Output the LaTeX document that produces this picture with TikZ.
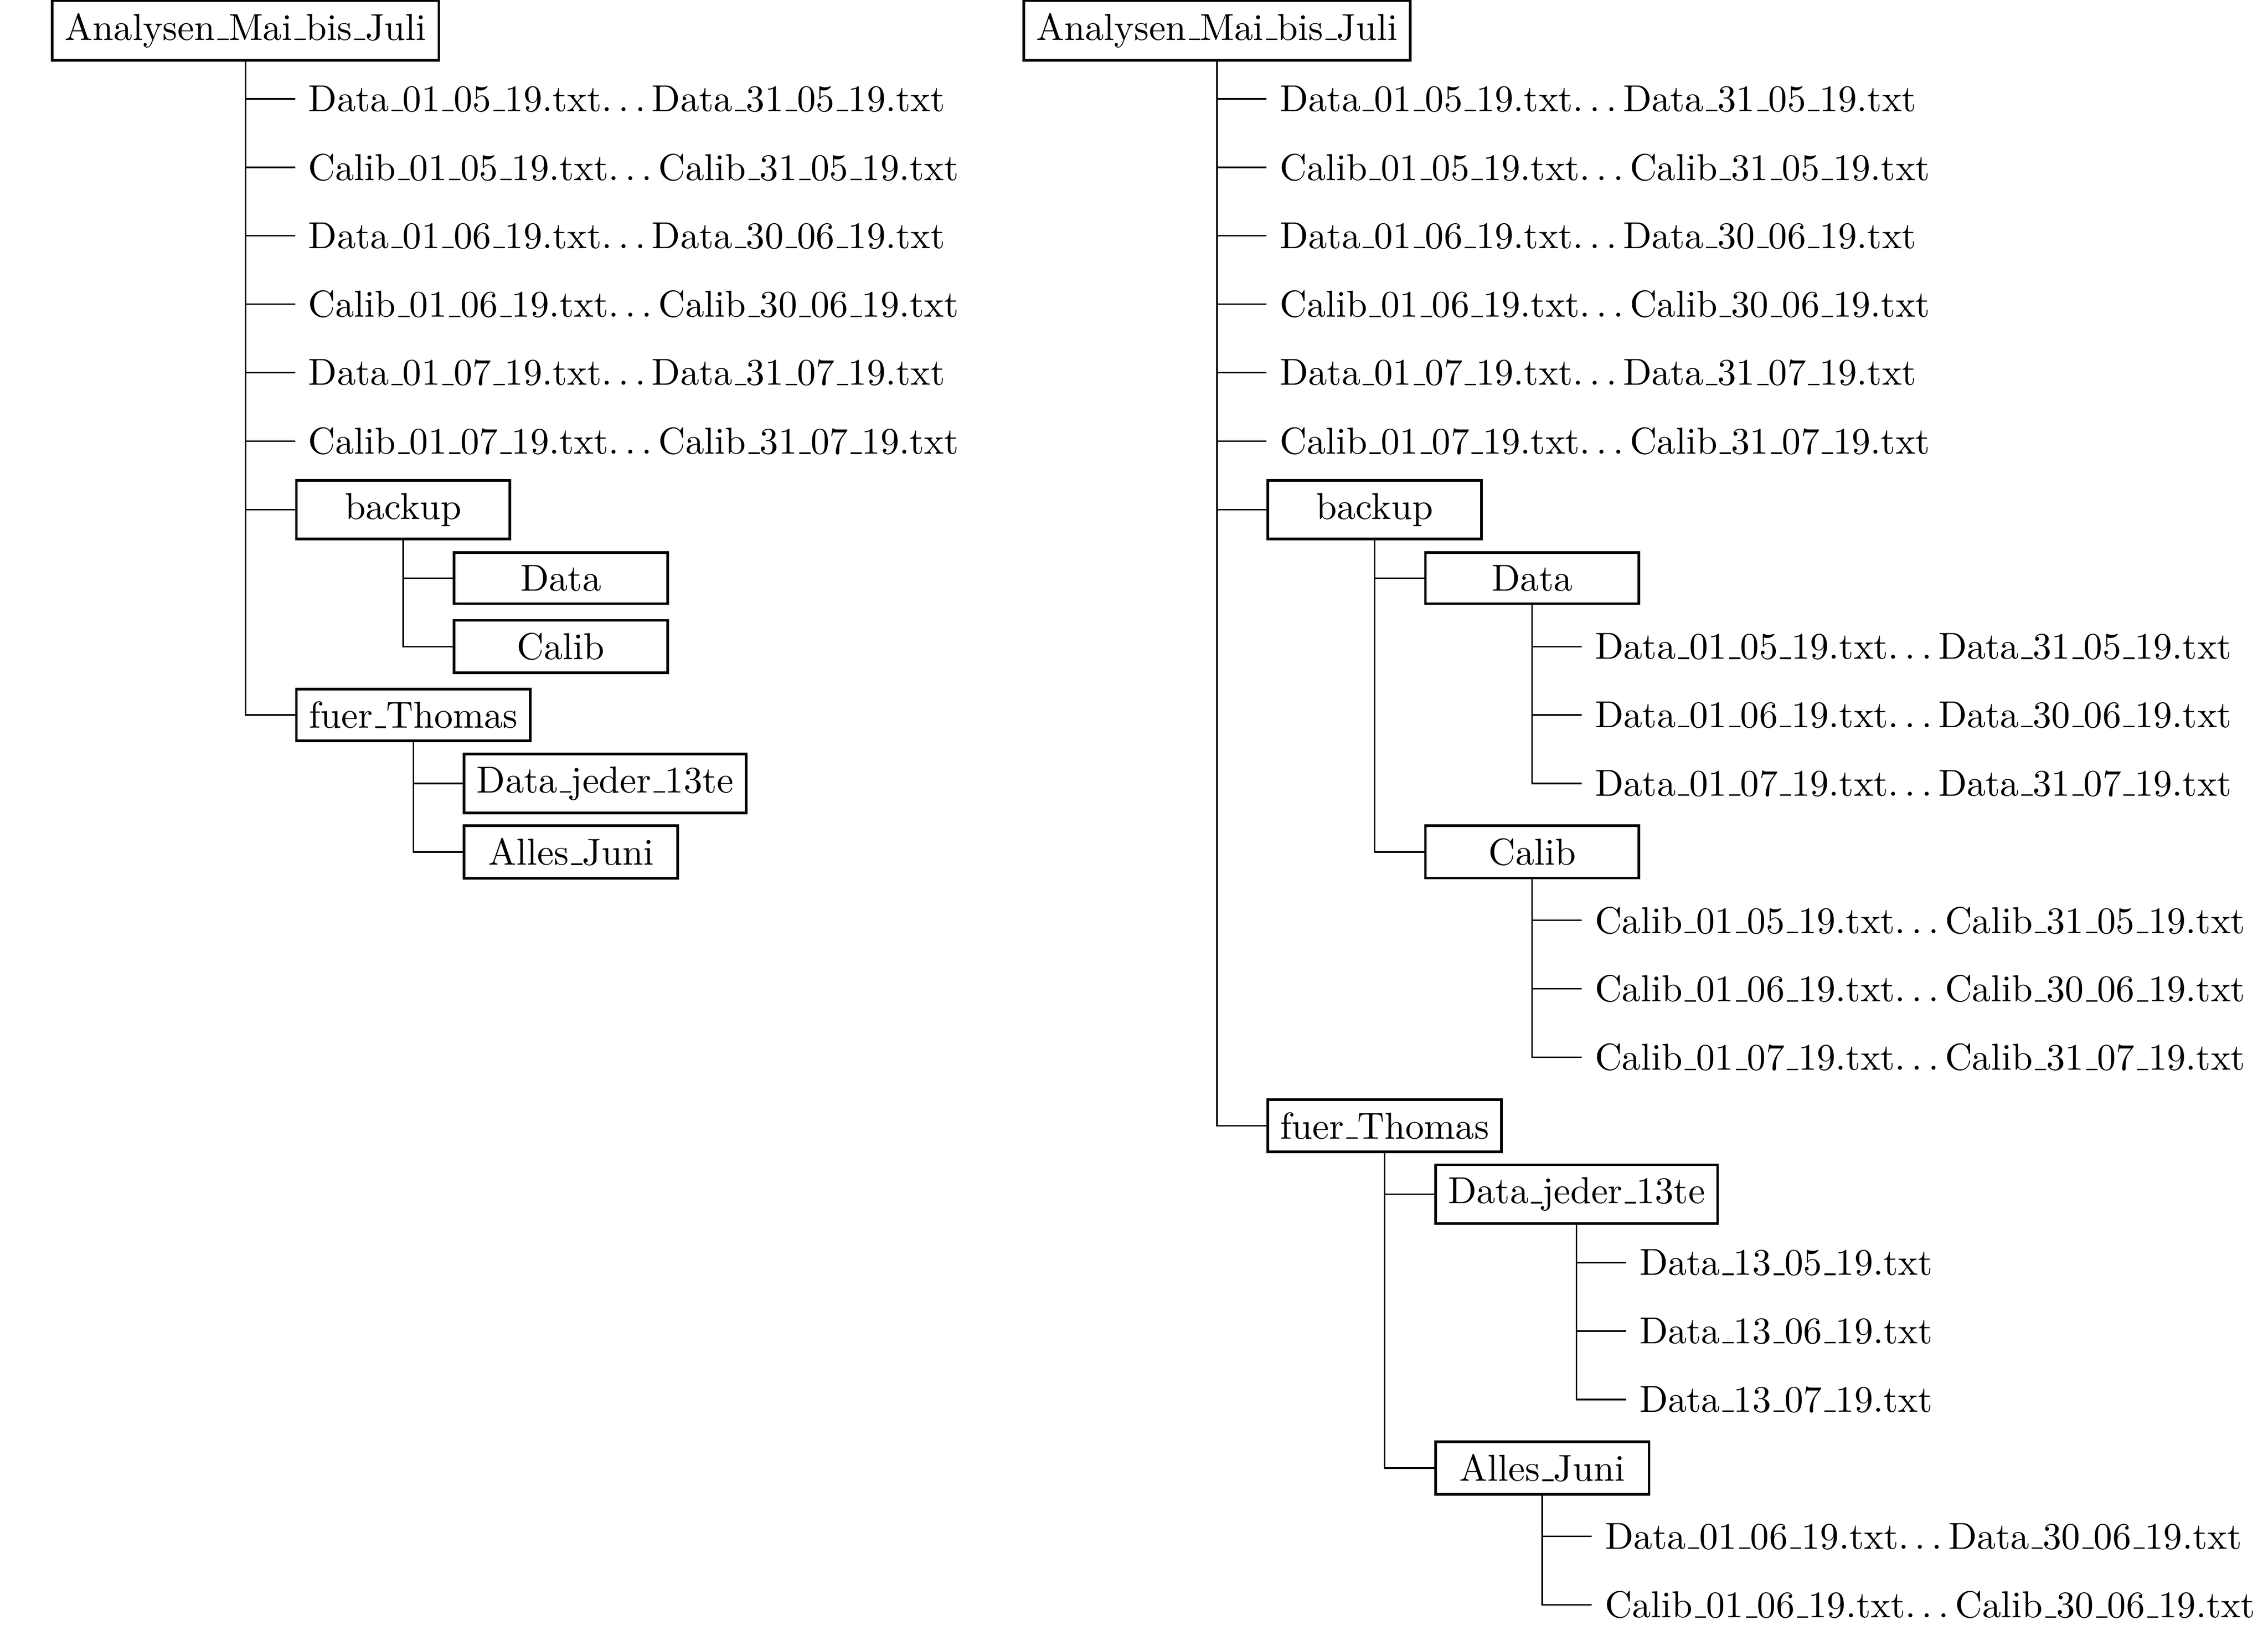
\documentclass[tikz,border=0pt]{standalone}
\usetikzlibrary{calc}
\newcommand\usc{\leavevmode\kern.06em\vbox{\hrule width.3em}}
\newcommand\dts{.\kern\fontdimen3\font.\kern\fontdimen3\font.\kern\fontdimen3\font}
\newcommand\rng[3]{#1\usc01\usc#2\usc19.txt\dts #1\usc#3\usc#2\usc19.txt}
\tikzset{
  rootbox/.style={draw, line width=0.7pt, minimum width=2cm},
  folder/.style={draw, line width=0.7pt, minimum width=2cm, anchor=west},
  file/.style={anchor=west},
  conn/.style={line width=0.4pt},
}
\newcommand\kid[5]{%
  \path (#3.south) ++(13.2pt,0) coordinate (tmp);
  \node[#1] (#2) at (tmp |- r#4) {#5};
  \draw[conn] (#3.south) |- (#2.west);
}
\begin{document}
\begin{tikzpicture}
\useasboundingbox (0,0) rectangle (604.4pt,-434.3pt);
\foreach \i in {0,...,23} {\coordinate (r\i) at (0pt,{-8.11pt-18.24pt*\i});}
% left tree
\node[rootbox] (L) at (65.45pt,-8.11pt) {Analysen\usc Mai\usc bis\usc Juli};
\kid{file}{La1}{L}{1}{\rng{Data}{05}{31}}
\kid{file}{La2}{L}{2}{\rng{Calib}{05}{31}}
\kid{file}{La3}{L}{3}{\rng{Data}{06}{30}}
\kid{file}{La4}{L}{4}{\rng{Calib}{06}{30}}
\kid{file}{La5}{L}{5}{\rng{Data}{07}{31}}
\kid{file}{La6}{L}{6}{\rng{Calib}{07}{31}}
\kid{folder}{Lbk}{L}{7}{backup}
\kid{folder}{Lbd}{Lbk}{8}{Data}
\kid{folder}{Lbc}{Lbk}{9}{Calib}
\kid{folder}{Lft}{L}{10}{fuer\usc Thomas}
\kid{folder}{Lfj}{Lft}{11}{Data\usc jeder\usc 13te}
\kid{folder}{Lfa}{Lft}{12}{Alles\usc Juni}
% right tree
\node[rootbox] (R) at (324.3pt,-8.11pt) {Analysen\usc Mai\usc bis\usc Juli};
\kid{file}{Ra1}{R}{1}{\rng{Data}{05}{31}}
\kid{file}{Ra2}{R}{2}{\rng{Calib}{05}{31}}
\kid{file}{Ra3}{R}{3}{\rng{Data}{06}{30}}
\kid{file}{Ra4}{R}{4}{\rng{Calib}{06}{30}}
\kid{file}{Ra5}{R}{5}{\rng{Data}{07}{31}}
\kid{file}{Ra6}{R}{6}{\rng{Calib}{07}{31}}
\kid{folder}{Rbk}{R}{7}{backup}
\kid{folder}{Rbd}{Rbk}{8}{Data}
\kid{file}{Rbd1}{Rbd}{9}{\rng{Data}{05}{31}}
\kid{file}{Rbd2}{Rbd}{10}{\rng{Data}{06}{30}}
\kid{file}{Rbd3}{Rbd}{11}{\rng{Data}{07}{31}}
\kid{folder}{Rbc}{Rbk}{12}{Calib}
\kid{file}{Rbc1}{Rbc}{13}{\rng{Calib}{05}{31}}
\kid{file}{Rbc2}{Rbc}{14}{\rng{Calib}{06}{30}}
\kid{file}{Rbc3}{Rbc}{15}{\rng{Calib}{07}{31}}
\kid{folder}{Rft}{R}{16}{fuer\usc Thomas}
\kid{folder}{Rfj}{Rft}{17}{Data\usc jeder\usc 13te}
\kid{file}{Rfj1}{Rfj}{18}{Data\usc13\usc05\usc19.txt}
\kid{file}{Rfj2}{Rfj}{19}{Data\usc13\usc06\usc19.txt}
\kid{file}{Rfj3}{Rfj}{20}{Data\usc13\usc07\usc19.txt}
\kid{folder}{Rfa}{Rft}{21}{Alles\usc Juni}
\kid{file}{Rfa1}{Rfa}{22}{\rng{Data}{06}{30}}
\kid{file}{Rfa2}{Rfa}{23}{\rng{Calib}{06}{30}}
\end{tikzpicture}
\end{document}
